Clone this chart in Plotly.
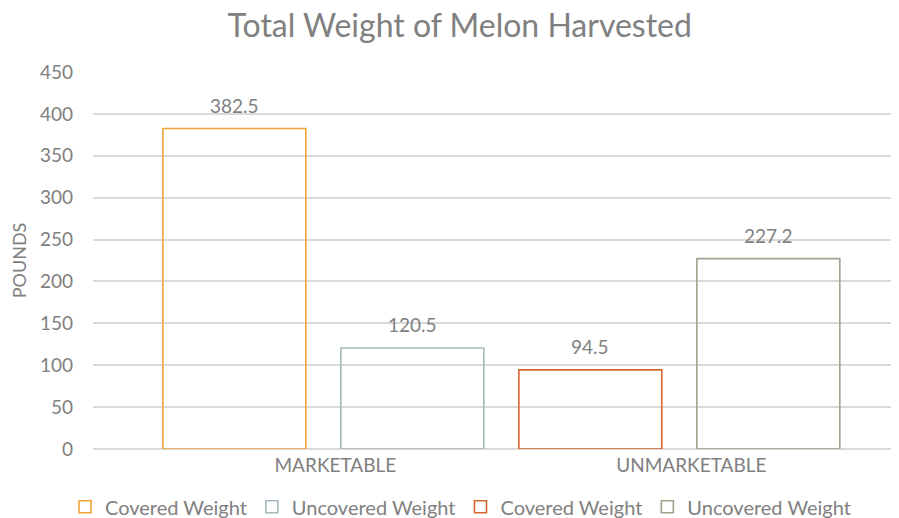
import plotly.graph_objects as go

categories = ["MARKETABLE", "UNMARKETABLE"]
series_names = ["Covered Weight", "Uncovered Weight", "Covered Weight", "Uncovered Weight"]
series_cats = ["MARKETABLE", "MARKETABLE", "UNMARKETABLE", "UNMARKETABLE"]
series_values = [382.5, 120.5, 94.5, 227.2]
series_groups = ["a", "b", "a", "b"]
series_colors = ["#f2a43a", "#a7b9bf", "#d5672f", "#a0a38b"]

TEXT = "#808080"
GRID = "#d9d9d9"
FONT = "Lato, 'Open Sans', sans-serif"

fig = go.Figure()
for name, cat, val, grp, col in zip(series_names, series_cats, series_values, series_groups, series_colors):
    fig.add_trace(go.Bar(
        x=[cat], y=[val], name=name, offsetgroup=grp,
        marker=dict(color="rgba(255,255,255,0)", line=dict(color=col, width=1.6)),
    ))
    # value label above each bar (two offset groups -> each half of the category)
    pos = categories.index(cat) + (-0.25 if grp == "a" else 0.25)
    fig.add_annotation(x=pos, y=val, text=str(val), showarrow=False,
                       yanchor="bottom", yshift=10,
                       font=dict(size=19, color=TEXT))

# the page body adds an 8px margin, so the figure is sized 8px smaller
fig.update_layout(
    width=891, height=510,
    paper_bgcolor="white", plot_bgcolor="white",
    font=dict(family=FONT, color=TEXT),
    title=dict(text="Total Weight of Melon Harvested", x=0.507, xanchor="center",
               y=0.966, yanchor="middle", font=dict(size=32, color=TEXT)),
    margin=dict(l=85, r=0, t=64, b=69),
    barmode="group", bargap=0.0, bargroupgap=0.197,
    showlegend=True,
    legend=dict(orientation="h", xref="container", x=0.064, xanchor="left",
                yref="container", y=0.022, yanchor="middle",
                font=dict(size=20, color=TEXT), traceorder="normal"),
)
fig.update_xaxes(categoryorder="array", categoryarray=categories,
                 range=[-0.647, 1.617], showgrid=False, showline=False, automargin=False,
                 tickfont=dict(size=19, color=TEXT), ticklabelshift=12,
                 ticks="", ticklabelstandoff=3)
fig.update_yaxes(range=[0, 450], dtick=50, showgrid=True, gridcolor=GRID, gridwidth=1.5,
                 zeroline=True, zerolinecolor=GRID, zerolinewidth=1.5, automargin=False,
                 tickfont=dict(size=19, color=TEXT), ticks="", ticklabelstandoff=19,
                 title=dict(text="POUNDS", font=dict(size=18, color=TEXT), standoff=12))

fig.write_html("out.html")
